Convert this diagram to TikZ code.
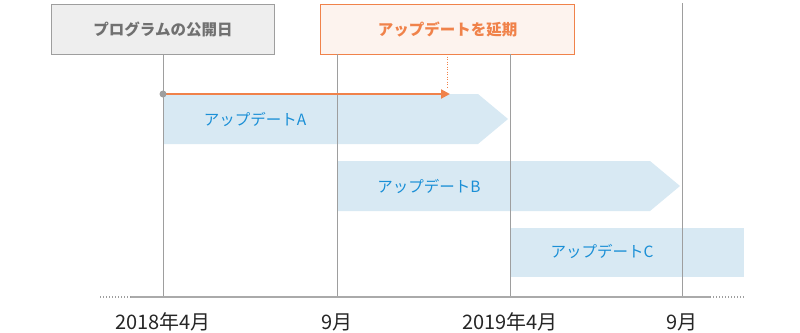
\documentclass[tikz,border=0pt]{standalone}
\usepackage{fontspec}
\setmainfont{Noto Sans CJK JP}
\usetikzlibrary{arrows.meta}
\definecolor{vline}{HTML}{9E9E9E}
\definecolor{boxgray}{HTML}{EEEEEE}
\definecolor{txtgray}{HTML}{707070}
\definecolor{orng}{HTML}{F0824A}
\definecolor{orngfill}{HTML}{FDF3EE}
\definecolor{barfill}{HTML}{D8E9F3}
\definecolor{bartxt}{HTML}{1A8FD6}
\definecolor{axis}{HTML}{AAAAAA}
\tikzset{
  x=1pt,y=-1pt,
  tick/.style={draw=vline,line width=0.9pt},
  headbox/.style={minimum width=#1,minimum height=50pt,inner sep=0pt,line width=1pt,font=\fontsize{15.5}{15.5}\selectfont\bfseries},
  bar/.style={fill=barfill,draw=none},
  bartext/.style={text=bartxt,font=\fontsize{15.5}{16}\selectfont},
  datelabel/.style={text=black!85,font=\fontsize{20}{20}\selectfont},
}
\begin{document}
\begin{tikzpicture}
\useasboundingbox (0,0) rectangle (800,332);
% bars
\fill[barfill] (163,94) -- (478,94) -- (508,119) -- (478,144) -- (163,144) -- cycle;
\fill[barfill] (337,161) -- (650,161) -- (680,186) -- (650,211) -- (337,211) -- cycle;
\fill[barfill] (510,228) rectangle (744,277);
% header boxes
\node[headbox=223pt,draw=vline,fill=boxgray,text=txtgray,anchor=north west] (pub) at (51,4) {プログラムの公開日};
\node[headbox=254pt,draw=orng,fill=orngfill,text=orng,anchor=north west] (del) at (320,4) {アップデートを延期};
% coordinates
\coordinate (t1) at (163,54);
\coordinate (b1) at (163,297);
\coordinate (t2) at (337,54);
\coordinate (b2) at (337,297);
\coordinate (t3) at (510,54);
\coordinate (b3) at (510,297);
\coordinate (t4) at (682,3);
\coordinate (b4) at (682,297);
\draw[tick] (t1) -- (b1);
\draw[tick] (t2) -- (b2);
\draw[tick] (t3) -- (b3);
\draw[tick] (t4) -- (b4);
% axis
\coordinate (al) at (131,297);
\coordinate (ar) at (710,297);
\coordinate (alx) at (100,297);
\coordinate (arx) at (744,297);
\draw[axis,line width=1.8pt] (al) -- (ar);
\draw[vline,line width=1.4pt,dash pattern=on 1.4pt off 1.6pt] (alx) -- (al);
\draw[vline,line width=1.4pt,dash pattern=on 1.4pt off 1.6pt] (ar) -- (arx);
% delay arrow
\coordinate (d0) at (163,94);
\coordinate (d1) at (450,94);
\coordinate (dt) at (447,54);
\coordinate (db) at (447,88);
\draw[orng,line width=0.9pt,dash pattern=on 1pt off 1.5pt] (dt) -- (db);
\draw[orng,line width=2pt,-{Triangle[length=9pt,width=9pt]}] (d0) -- (d1);
\fill[vline] (d0) circle (3.5pt);
% bar texts
\node[bartext] (ta) at (255,119) {アップデートA};
\node[bartext] (tb) at (429,186) {アップデートB};
\node[bartext] (tc) at (602,251) {アップデートC};
% dates
\node[datelabel] (l1) at (163,322) {2018年4月};
\node[datelabel] (l2) at (337,322) {9月};
\node[datelabel] (l3) at (510,322) {2019年4月};
\node[datelabel] (l4) at (682,322) {9月};
\end{tikzpicture}
\end{document}
